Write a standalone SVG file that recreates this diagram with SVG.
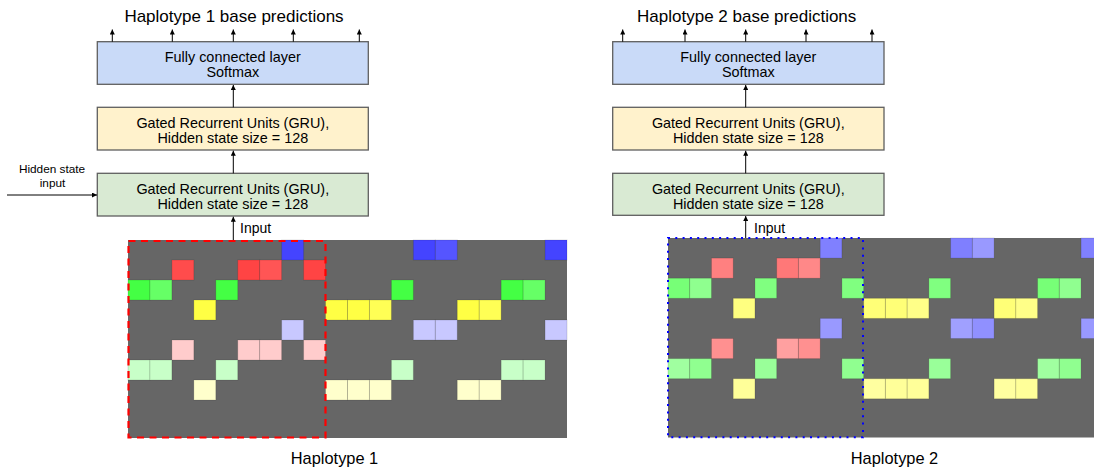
<svg xmlns="http://www.w3.org/2000/svg" width="1094" height="472" viewBox="0 0 1094 472">
<style>
.t{font-family:"Liberation Sans",Arial,sans-serif;fill:#000;text-anchor:middle}
.title{font-size:17px}
.box{stroke:#5f5f5f;stroke-width:1.3}
.bt{font-size:14.4px}
.fc{fill:#c9daf8}
.g2{fill:#fff2cc}
.g1{fill:#d9ead3}
.conn line{stroke:#000;stroke-width:1;marker-end:url(#ah)}
.bg{fill:#666666}
.c rect{stroke:#000;stroke-opacity:0.13;stroke-width:1}
</style>
<defs>
<marker id="ah" viewBox="0 0 10 10" refX="10" refY="5" markerUnits="userSpaceOnUse" markerWidth="6" markerHeight="5" orient="auto">
<path d="M0,0 L10,5 L0,10 z" fill="#000"/>
</marker>
</defs>
<rect width="1094" height="472" fill="#fff"/>

<!-- Left column -->
<text class="t title" x="234" y="22.3">Haplotype 1 base predictions</text>
<g id="fc1">
<rect class="box fc" x="97.3" y="41.7" width="271" height="42.6"/>
<text class="t bt" x="232.8" y="62">Fully connected layer</text>
<text class="t bt" x="232.8" y="76.5">Softmax</text>
</g>
<g id="gru1b">
<rect class="box g2" x="97.3" y="107.3" width="271" height="42.7"/>
<text class="t bt" x="232.8" y="127.7">Gated Recurrent Units (GRU),</text>
<text class="t bt" x="232.8" y="142.7">Hidden state size = 128</text>
</g>
<g id="gru1a">
<rect class="box g1" x="97.3" y="173.3" width="271" height="42.7"/>
<text class="t bt" x="232.8" y="194">Gated Recurrent Units (GRU),</text>
<text class="t bt" x="232.8" y="209">Hidden state size = 128</text>
</g>
<g id="hidden-label">
<text class="t" style="font-size:11.8px" x="52" y="172.7">Hidden state</text>
<text class="t" style="font-size:11.8px" x="52.5" y="186.7">input</text>
</g>
<text class="t" style="font-size:14px;text-anchor:start" x="240" y="233.3">Input</text>

<!-- Right column -->
<text class="t title" x="746.7" y="22.3">Haplotype 2 base predictions</text>
<g id="fc2">
<rect class="box fc" x="612.7" y="41.7" width="271.3" height="42.6"/>
<text class="t bt" x="748.3" y="62">Fully connected layer</text>
<text class="t bt" x="748.3" y="76.5">Softmax</text>
</g>
<g id="gru2b">
<rect class="box g2" x="612.7" y="107.3" width="271.3" height="42.7"/>
<text class="t bt" x="748.3" y="127.7">Gated Recurrent Units (GRU),</text>
<text class="t bt" x="748.3" y="142.7">Hidden state size = 128</text>
</g>
<g id="gru2a">
<rect class="box g1" x="612.7" y="173.3" width="271.3" height="42"/>
<text class="t bt" x="748.3" y="194">Gated Recurrent Units (GRU),</text>
<text class="t bt" x="748.3" y="209">Hidden state size = 128</text>
</g>
<text class="t" style="font-size:14px;text-anchor:start" x="754" y="233.3">Input</text>

<!-- Heatmap 1 -->
<g id="heatmap1">
<rect class="bg" x="128" y="240" width="439" height="198"/>
<g class="c">
<rect x="281.65" y="240" width="21.95" height="20" fill="#4444ff"/>
<rect x="413.35" y="240" width="21.95" height="20" fill="#4444ff"/>
<rect x="435.3" y="240" width="21.95" height="20" fill="#5555ff"/>
<rect x="545.05" y="240" width="21.95" height="20" fill="#4444ff"/>
<rect x="171.9" y="260" width="21.95" height="20" fill="#ff4c4c"/>
<rect x="237.75" y="260" width="21.95" height="20" fill="#ff4444"/>
<rect x="259.7" y="260" width="21.95" height="20" fill="#ff5555"/>
<rect x="303.6" y="260" width="21.95" height="20" fill="#ff4444"/>
<rect x="128" y="280" width="21.95" height="20" fill="#44ff44"/>
<rect x="149.95" y="280" width="21.95" height="20" fill="#66ff66"/>
<rect x="215.8" y="280" width="21.95" height="20" fill="#44ff44"/>
<rect x="391.4" y="280" width="21.95" height="20" fill="#44ff44"/>
<rect x="501.15" y="280" width="21.95" height="20" fill="#44ff44"/>
<rect x="523.1" y="280" width="21.95" height="20" fill="#66ff66"/>
<rect x="193.85" y="300" width="21.95" height="20" fill="#ffff44"/>
<rect x="325.55" y="300" width="21.95" height="20" fill="#ffff44"/>
<rect x="347.5" y="300" width="21.95" height="20" fill="#ffff44"/>
<rect x="369.45" y="300" width="21.95" height="20" fill="#ffff55"/>
<rect x="457.25" y="300" width="21.95" height="20" fill="#ffff44"/>
<rect x="479.2" y="300" width="21.95" height="20" fill="#ffff55"/>
<rect x="281.65" y="320" width="21.95" height="20" fill="#c8c8ff"/>
<rect x="413.35" y="320" width="21.95" height="20" fill="#c8c8ff"/>
<rect x="435.3" y="320" width="21.95" height="20" fill="#c8c8ff"/>
<rect x="545.05" y="320" width="21.95" height="20" fill="#c8c8ff"/>
<rect x="171.9" y="340" width="21.95" height="20" fill="#ffcccc"/>
<rect x="237.75" y="340" width="21.95" height="20" fill="#ffcccc"/>
<rect x="259.7" y="340" width="21.95" height="20" fill="#ffcccc"/>
<rect x="303.6" y="340" width="21.95" height="20" fill="#ffcccc"/>
<rect x="128" y="360" width="21.95" height="20" fill="#c8ffc8"/>
<rect x="149.95" y="360" width="21.95" height="20" fill="#c8ffc8"/>
<rect x="215.8" y="360" width="21.95" height="20" fill="#c8ffc8"/>
<rect x="391.4" y="360" width="21.95" height="20" fill="#c8ffc8"/>
<rect x="501.15" y="360" width="21.95" height="20" fill="#c8ffc8"/>
<rect x="523.1" y="360" width="21.95" height="20" fill="#c8ffc8"/>
<rect x="193.85" y="380" width="21.95" height="20" fill="#ffffcc"/>
<rect x="325.55" y="380" width="21.95" height="20" fill="#ffffcc"/>
<rect x="347.5" y="380" width="21.95" height="20" fill="#ffffcc"/>
<rect x="369.45" y="380" width="21.95" height="20" fill="#ffffcc"/>
<rect x="457.25" y="380" width="21.95" height="20" fill="#ffffcc"/>
<rect x="479.2" y="380" width="21.95" height="20" fill="#ffffcc"/>
</g>
<rect x="128.5" y="241" width="197" height="196.5" fill="none" stroke="#ff0000" stroke-width="2.2" stroke-dasharray="7 5.5"/>
</g>

<!-- Heatmap 2 -->
<g id="heatmap2">
<rect class="bg" x="668" y="238" width="426" height="199.5"/>
<g class="c">
<rect x="820.18" y="238" width="21.74" height="20.1" fill="#8080ff"/>
<rect x="950.62" y="238" width="21.74" height="20.1" fill="#7f7fff"/>
<rect x="972.36" y="238" width="21.74" height="20.1" fill="#9999ff"/>
<rect x="1081.06" y="238" width="21.74" height="20.1" fill="#8080ff"/>
<rect x="711.48" y="258.1" width="21.74" height="20.1" fill="#ff8080"/>
<rect x="776.7" y="258.1" width="21.74" height="20.1" fill="#ff7878"/>
<rect x="798.44" y="258.1" width="21.74" height="20.1" fill="#ff8888"/>
<rect x="668" y="278.2" width="21.74" height="20.1" fill="#77ff77"/>
<rect x="689.74" y="278.2" width="21.74" height="20.1" fill="#8fff8f"/>
<rect x="754.96" y="278.2" width="21.74" height="20.1" fill="#80ff80"/>
<rect x="841.92" y="278.2" width="21.74" height="20.1" fill="#80ff80"/>
<rect x="928.88" y="278.2" width="21.74" height="20.1" fill="#80ff80"/>
<rect x="1037.58" y="278.2" width="21.74" height="20.1" fill="#77ff77"/>
<rect x="1059.32" y="278.2" width="21.74" height="20.1" fill="#90ff90"/>
<rect x="733.22" y="298.3" width="21.74" height="20.1" fill="#ffff80"/>
<rect x="863.66" y="298.3" width="21.74" height="20.1" fill="#ffff77"/>
<rect x="885.4" y="298.3" width="21.74" height="20.1" fill="#ffff77"/>
<rect x="907.14" y="298.3" width="21.74" height="20.1" fill="#ffff88"/>
<rect x="994.1" y="298.3" width="21.74" height="20.1" fill="#ffff77"/>
<rect x="1015.84" y="298.3" width="21.74" height="20.1" fill="#ffff88"/>
<rect x="820.18" y="318.4" width="21.74" height="20.1" fill="#9999ff"/>
<rect x="950.62" y="318.4" width="21.74" height="20.1" fill="#a0a0ff"/>
<rect x="972.36" y="318.4" width="21.74" height="20.1" fill="#9090ff"/>
<rect x="1081.06" y="318.4" width="21.74" height="20.1" fill="#9999ff"/>
<rect x="711.48" y="338.5" width="21.74" height="20.1" fill="#ff9090"/>
<rect x="776.7" y="338.5" width="21.74" height="20.1" fill="#ffa0a0"/>
<rect x="798.44" y="338.5" width="21.74" height="20.1" fill="#ff9090"/>
<rect x="668" y="358.6" width="21.74" height="20.1" fill="#a0ffa0"/>
<rect x="689.74" y="358.6" width="21.74" height="20.1" fill="#90ff90"/>
<rect x="754.96" y="358.6" width="21.74" height="20.1" fill="#99ff99"/>
<rect x="841.92" y="358.6" width="21.74" height="20.1" fill="#90ff90"/>
<rect x="928.88" y="358.6" width="21.74" height="20.1" fill="#99ff99"/>
<rect x="1037.58" y="358.6" width="21.74" height="20.1" fill="#a0ffa0"/>
<rect x="1059.32" y="358.6" width="21.74" height="20.1" fill="#90ff90"/>
<rect x="733.22" y="378.7" width="21.74" height="20.1" fill="#ffff99"/>
<rect x="863.66" y="378.7" width="21.74" height="20.1" fill="#ffffa0"/>
<rect x="885.4" y="378.7" width="21.74" height="20.1" fill="#ffff99"/>
<rect x="907.14" y="378.7" width="21.74" height="20.1" fill="#ffff99"/>
<rect x="994.1" y="378.7" width="21.74" height="20.1" fill="#ffffa0"/>
<rect x="1015.84" y="378.7" width="21.74" height="20.1" fill="#ffff99"/>
</g>
<rect x="668" y="238" width="195" height="199.3" fill="none" stroke="#0000ff" stroke-width="2" stroke-dasharray="2 5.3"/>
</g>

<text class="t" style="font-size:16.4px" x="334.5" y="464">Haplotype 1</text>
<text class="t" style="font-size:16.4px" x="894.5" y="464">Haplotype 2</text>

<!-- Connectors -->
<g id="connectors" class="conn">
<line x1="112.3" y1="41.7" x2="112.3" y2="29.5"/>
<line x1="172.3" y1="41.7" x2="172.3" y2="29.5"/>
<line x1="233.3" y1="41.7" x2="233.3" y2="29.5"/>
<line x1="293.3" y1="41.7" x2="293.3" y2="29.5"/>
<line x1="359.3" y1="41.7" x2="359.3" y2="29.5"/>
<line x1="233.3" y1="107.3" x2="233.3" y2="85"/>
<line x1="233.3" y1="173.3" x2="233.3" y2="150.7"/>
<line x1="233.3" y1="240" x2="233.3" y2="216.7"/>
<line x1="7" y1="195" x2="97" y2="195"/>
<line x1="622.7" y1="41.7" x2="622.7" y2="29.5"/>
<line x1="685" y1="41.7" x2="685" y2="29.5"/>
<line x1="745.7" y1="41.7" x2="745.7" y2="29.5"/>
<line x1="806" y1="41.7" x2="806" y2="29.5"/>
<line x1="872" y1="41.7" x2="872" y2="29.5"/>
<line x1="745.7" y1="107.3" x2="745.7" y2="85"/>
<line x1="745.7" y1="173.3" x2="745.7" y2="150.7"/>
<line x1="745.7" y1="238" x2="745.7" y2="216"/>
</g>
</svg>
